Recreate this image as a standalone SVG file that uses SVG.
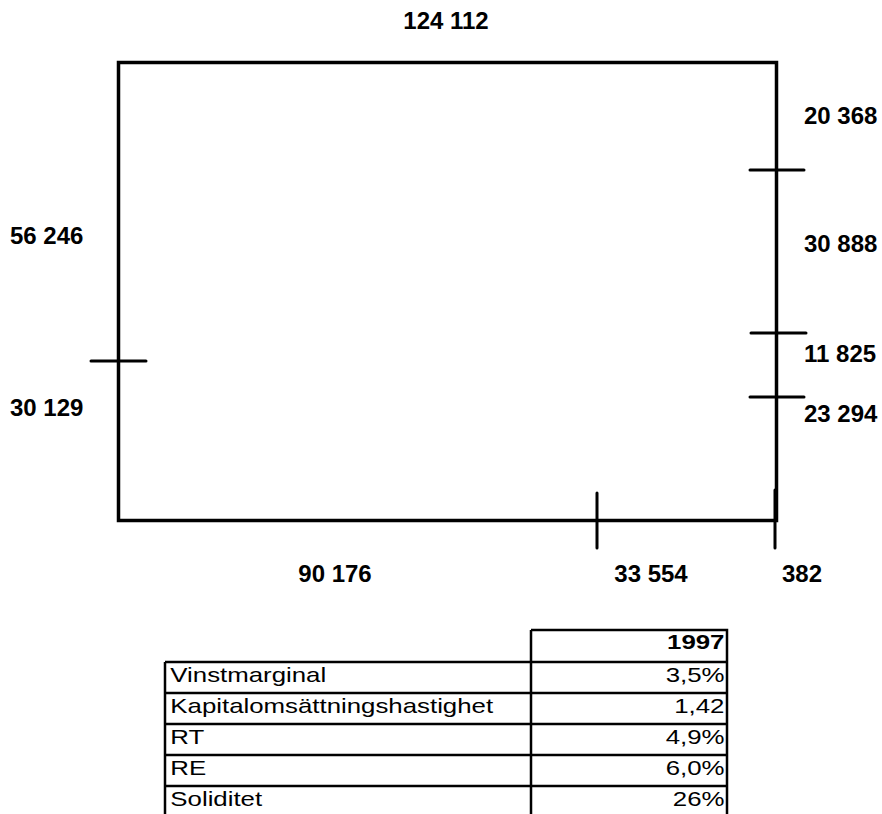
<svg xmlns="http://www.w3.org/2000/svg" width="882" height="814" viewBox="0 0 882 814">
<style>
.lbl{font-family:"Liberation Sans",Arial,sans-serif;font-weight:bold;font-size:24px;fill:#000}
.tt{font-family:"Liberation Sans",Arial,sans-serif;font-size:21px;fill:#000}
.tb{font-family:"Liberation Sans",Arial,sans-serif;font-size:21px;font-weight:bold;fill:#000}
.ln{stroke:#000;stroke-width:3.5;fill:none;stroke-linecap:round}
.tk{stroke:#000;stroke-width:3;fill:none;stroke-linecap:round}
.grid{stroke:#000;stroke-width:2.5;fill:none}
</style>
<rect width="882" height="814" fill="#fff"/>
<g id="frame">
<rect x="118.5" y="62.5" width="658" height="458" class="ln"/>
</g>
<g id="connectors">
<line x1="91" y1="361" x2="146" y2="361" class="tk"/>
<line x1="750" y1="170" x2="804" y2="170" class="tk"/>
<line x1="751" y1="333" x2="806" y2="333" class="tk"/>
<line x1="750" y1="397" x2="804" y2="397" class="tk"/>
<line x1="597" y1="493" x2="597" y2="548" class="tk"/>
<line x1="775" y1="490" x2="775" y2="548" class="tk"/>
</g>
<g id="labels">
<text class="lbl" x="446" y="29" text-anchor="middle">124 112</text>
<text class="lbl" x="804" y="124">20 368</text>
<text class="lbl" x="10" y="244">56 246</text>
<text class="lbl" x="804" y="252">30 888</text>
<text class="lbl" x="804" y="362">11 825</text>
<text class="lbl" x="10" y="416">30 129</text>
<text class="lbl" x="804" y="422">23 294</text>
<text class="lbl" x="335" y="582" text-anchor="middle">90 176</text>
<text class="lbl" x="651" y="582" text-anchor="middle">33 554</text>
<text class="lbl" x="802" y="582" text-anchor="middle">382</text>
</g>
<g id="table">
<path class="grid" d="M531 630H727V820M531 630V820M165 662H727M165 693H727M165 724H727M165 755H727M165 786H727M165 662V820"/>
<g transform="scale(1.23,1)">
<text class="tb" x="589" y="649" text-anchor="end">1997</text>
<text class="tt" x="138.5" y="682">Vinstmarginal</text>
<text class="tt" x="589" y="682" text-anchor="end">3,5%</text>
<text class="tt" x="138.5" y="713">Kapitalomsättningshastighet</text>
<text class="tt" x="589" y="713" text-anchor="end">1,42</text>
<text class="tt" x="138.5" y="744">RT</text>
<text class="tt" x="589" y="744" text-anchor="end">4,9%</text>
<text class="tt" x="138.5" y="775">RE</text>
<text class="tt" x="589" y="775" text-anchor="end">6,0%</text>
<text class="tt" x="138.5" y="806">Soliditet</text>
<text class="tt" x="589" y="806" text-anchor="end">26%</text>
</g>
</g>
</svg>
